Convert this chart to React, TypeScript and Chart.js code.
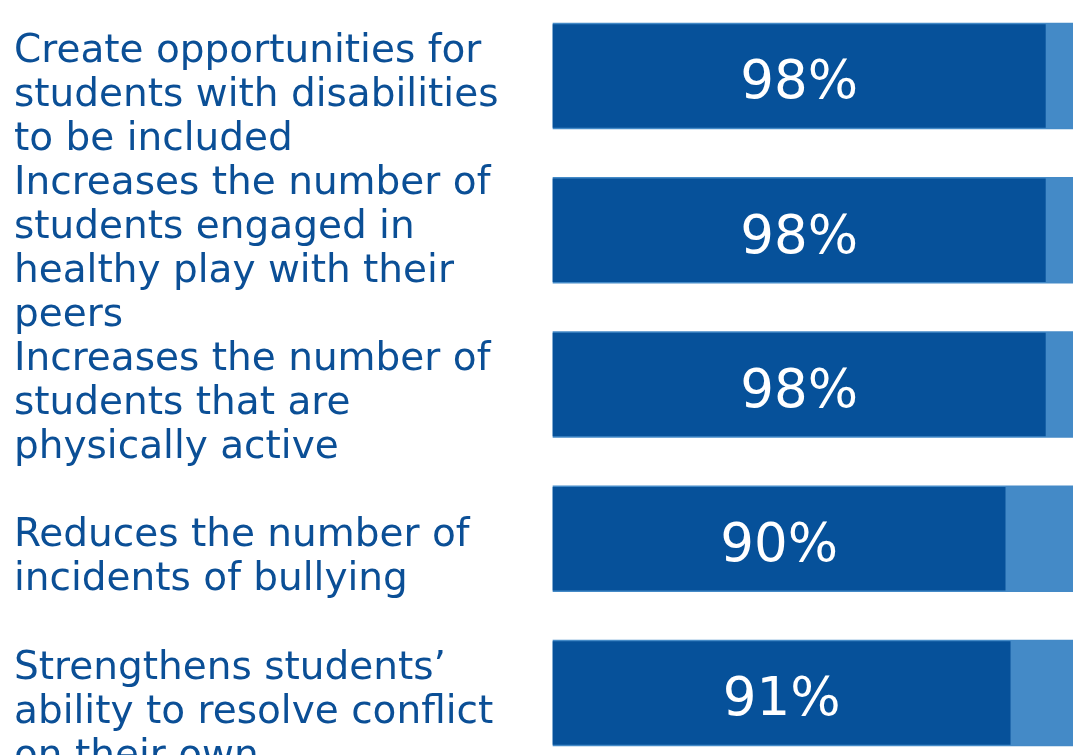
import React, { useEffect, useRef } from "react";
import { Chart, registerables } from "chart.js";

Chart.register(...registerables);

const categories: string[][] = [
  ["Create opportunities for", "students with disabilities", "to be included"],
  ["Increases the number of", "students engaged in", "healthy play with their", "peers"],
  ["Increases the number of", "students that are", "physically active"],
  ["Reduces the number of", "incidents of bullying"],
  ["Strengthens students\u2019", "ability to resolve conflict", "on their own"],
];
const agreeValues: number[] = [98, 98, 98, 90, 91];
const X_MAX = 103.5;
const trackValues: number[] = categories.map(() => X_MAX);

const DARK = "#06519A";
const LIGHT = "#448AC7";
const TEXT = "#0B4F96";

const percentLabels = {
  id: "percentLabels",
  afterDatasetsDraw(chart: any) {
    const meta = chart.getDatasetMeta(0);
    const ctx = chart.ctx;
    ctx.save();
    const size = 53;
    ctx.font = `${size}px "DejaVu Sans"`;
    ctx.fillStyle = "#ffffff";
    ctx.textAlign = "center";
    ctx.textBaseline = "alphabetic";
    meta.data.forEach((bar: any, i: number) => {
      const { x, base, y } = bar.getProps(["x", "base", "y"], true);
      ctx.fillText(`${agreeValues[i]}%`, (x + base) / 2, y + size * 0.42);
    });
    ctx.restore();
  },
};

export default function App() {
  const ref = useRef<HTMLCanvasElement | null>(null);
  useEffect(() => {
    document.body.style.margin = "0";
    if (!ref.current) return;
    const chart = new Chart(ref.current, {
      type: "bar",
      data: {
        labels: categories as any,
        datasets: [
          {
            label: "Agree",
            data: agreeValues,
            backgroundColor: DARK,
            barThickness: 103,
            grouped: false,
            clip: false as any,
            borderWidth: 0,
          },
          {
            label: "Track",
            data: trackValues,
            backgroundColor: LIGHT,
            barThickness: 106,
            grouped: false,
            clip: false as any,
            borderWidth: 0,
          },
        ],
      },
      options: {
        indexAxis: "y",
        animation: false,
        responsive: false,
        layout: { padding: { left: 14, top: 76, bottom: 62, right: 0 } },
        plugins: { legend: { display: false }, tooltip: { enabled: false } },
        scales: {
          x: { display: false, min: 0, max: X_MAX },
          y: {
            type: "category",
            offset: false,
            grid: { display: false },
            border: { display: false },
            afterFit: (scale: any) => {
              scale.width = 539;
              scale.paddingTop = 0;
              scale.paddingBottom = 0;
            },
            ticks: {
              autoSkip: false,
              crossAlign: "far",
              align: "start",
              color: TEXT,
              font: { family: "DejaVu Sans", size: 39, lineHeight: "44px" } as any,
            },
          },
        },
      },
      plugins: [percentLabels],
    });
    return () => chart.destroy();
  }, []);
  return (
    <div style={{ width: 1073, height: 755, overflow: "hidden" }}>
      <canvas ref={ref} width={1073} height={755} />
    </div>
  );
}
